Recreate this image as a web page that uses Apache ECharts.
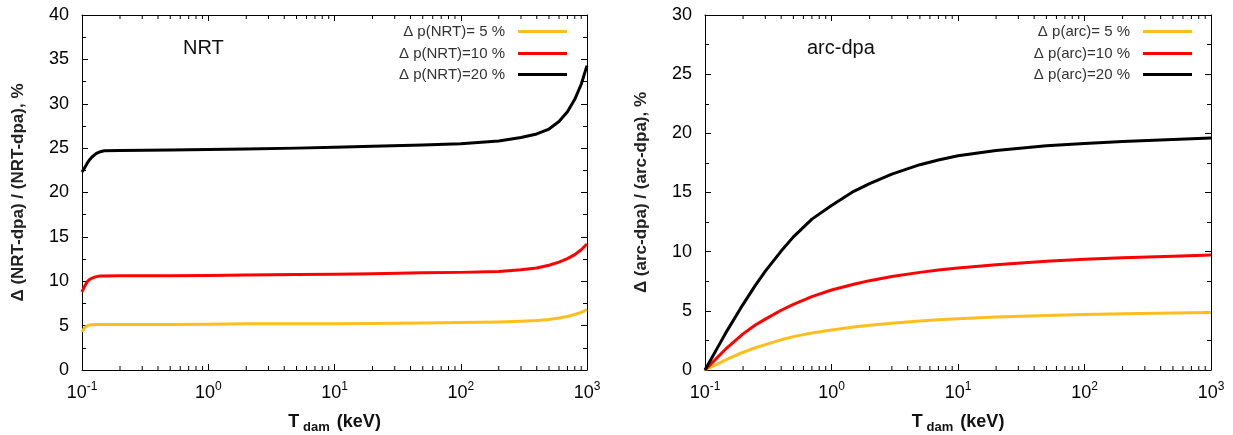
<!DOCTYPE html>
<html>
<head>
<meta charset="utf-8">
<script src="https://cdn.jsdelivr.net/npm/echarts@6/dist/echarts.min.js"></script>
<style>
html,body{margin:0;padding:0;background:#fff;}
#c{width:1233px;height:435px;}
</style>
</head>
<body>
<div id="c"></div>
<script>
// ---------- data ----------
const tNRT   = [0.1, 0.105, 0.11, 0.115, 0.12, 0.13, 0.14, 0.15, 0.2, 0.5, 1, 2, 5, 10, 20, 50, 100, 200, 300, 400, 500, 600, 700, 800, 900, 1000];
const nrt5   = [4.3, 4.75, 5.0, 5.07, 5.1, 5.12, 5.12, 5.12, 5.12, 5.13, 5.15, 5.2, 5.2, 5.22, 5.25, 5.3, 5.35, 5.4, 5.48, 5.57, 5.7, 5.86, 6.03, 6.25, 6.5, 6.8];
const nrt10  = [8.8, 9.45, 9.95, 10.2, 10.35, 10.52, 10.58, 10.6, 10.62, 10.63, 10.65, 10.7, 10.75, 10.8, 10.85, 10.95, 11.0, 11.1, 11.3, 11.5, 11.8, 12.15, 12.55, 13.0, 13.55, 14.2];
const nrt20  = [22.3, 22.8, 23.3, 23.7, 24.0, 24.4, 24.6, 24.7, 24.72, 24.78, 24.85, 24.9, 25.0, 25.1, 25.2, 25.35, 25.5, 25.8, 26.2, 26.6, 27.15, 28.0, 29.1, 30.5, 32.2, 34.3];

const tARC   = [0.1, 0.125, 0.15, 0.2, 0.25, 0.3, 0.4, 0.5, 0.7, 1, 1.5, 2, 3, 5, 7, 10, 20, 50, 100, 200, 500, 1000];
const arc5   = [0, 0.5, 0.92, 1.5, 1.88, 2.15, 2.55, 2.82, 3.12, 3.38, 3.63, 3.78, 3.96, 4.14, 4.24, 4.33, 4.47, 4.6, 4.68, 4.75, 4.81, 4.85];
const arc10  = [0, 1.05, 1.9, 3.05, 3.8, 4.3, 5.05, 5.55, 6.2, 6.76, 7.25, 7.55, 7.9, 8.25, 8.45, 8.62, 8.9, 9.18, 9.35, 9.48, 9.62, 9.72];
const arc20  = [0, 1.85, 3.35, 5.55, 7.15, 8.35, 10.05, 11.25, 12.75, 13.9, 15.1, 15.75, 16.55, 17.35, 17.75, 18.1, 18.55, 18.95, 19.15, 19.3, 19.48, 19.6];

const namesNRT = ['\u0394 p(NRT)= 5 %', '\u0394 p(NRT)=10 %', '\u0394 p(NRT)=20 %'];
const namesARC = ['\u0394 p(arc)= 5 %', '\u0394 p(arc)=10 %', '\u0394 p(arc)=20 %'];
const panelLabels = ['NRT', 'arc-dpa'];
const yNames = ['\u0394 (NRT-dpa) / (NRT-dpa), %', '\u0394 (arc-dpa) / (arc-dpa), %'];
const xTickExponents = {'0.1': '-1', '1': '0', '10': '1', '100': '2', '1000': '3'};
const minorMultipliers = [2, 3, 4, 5, 6, 7, 8, 9];
const decades = [0.1, 1, 10, 100];

// ---------- styles ----------
const FONT = 'Liberation Sans, Arial, sans-serif';
const colors = ['#FFBE1E', '#FF0000', '#000000'];
const grids = [
  {left: 82, top: 15, width: 505, height: 355, outerBoundsMode: 'none', containLabel: false},
  {left: 705, top: 15, width: 506, height: 355, outerBoundsMode: 'none', containLabel: false}
];
const yMax = [40, 30];

const minorTicks = [];
decades.forEach(d => minorMultipliers.forEach(m => minorTicks.push(+(d * m).toPrecision(3))));

function pairs(xs, ys) { return xs.map((x, i) => [x, ys[i]]); }

const xAxes = [], yAxes = [];
[0, 1].forEach(g => {
  xAxes.push({
    type: 'log', logBase: 10, gridIndex: g, min: 0.1, max: 1000, splitNumber: 4, position: 'bottom',
    axisLine: {onZero: false, lineStyle: {color: '#000', width: 1}},
    axisTick: {inside: true, length: 6, lineStyle: {color: '#000'}},
    splitLine: {show: false},
    axisLabel: {
      margin: 11, color: '#000', fontFamily: FONT, fontSize: 18,
      formatter: v => '10{sup|' + xTickExponents[String(+v.toPrecision(3))] + '}',
      rich: {sup: {fontSize: 12, fontFamily: FONT, color: '#000', padding: [0, 0, 12, 0]}}
    },
    name: 'T{sub|dam} {b|(keV)}', nameLocation: 'middle', nameGap: 41,
    nameTextStyle: {
      fontFamily: FONT, fontSize: 18, fontWeight: 'bold', color: '#111',
      rich: {
        sub: {fontFamily: FONT, fontSize: 13, fontWeight: 'bold', color: '#111', padding: [10, 2, 0, 4]},
        b: {fontFamily: FONT, fontSize: 18, fontWeight: 'bold', color: '#111'}
      }
    }
  });
  xAxes.push({
    type: 'log', logBase: 10, gridIndex: g, min: 0.1, max: 1000, splitNumber: 4, position: 'top',
    axisLine: {onZero: false, lineStyle: {color: '#000', width: 1}},
    axisTick: {inside: true, length: 6, lineStyle: {color: '#000'}},
    axisLabel: {show: false}, splitLine: {show: false}
  });
  yAxes.push({
    type: 'value', gridIndex: g, min: 0, max: yMax[g], interval: 5, position: 'left',
    axisLine: {show: true, onZero: false, lineStyle: {color: '#000', width: 1}},
    axisTick: {show: true, inside: true, length: 6, lineStyle: {color: '#000'}},
    minorTick: {show: true, splitNumber: 2, length: 4, lineStyle: {color: '#000'}},
    splitLine: {show: false},
    axisLabel: {margin: 13, color: '#000', fontFamily: FONT, fontSize: 18},
    name: yNames[g], nameLocation: 'middle', nameRotate: 90, nameGap: 55,
    nameTextStyle: {fontFamily: FONT, fontSize: 17, fontWeight: 'bold', color: '#222'}
  });
  yAxes.push({
    type: 'value', gridIndex: g, min: 0, max: yMax[g], interval: 5, position: 'right',
    axisLine: {show: true, onZero: false, lineStyle: {color: '#000', width: 1}},
    axisTick: {show: true, inside: true, length: 6, lineStyle: {color: '#000'}},
    minorTick: {show: true, splitNumber: 2, length: 4, lineStyle: {color: '#000'}},
    splitLine: {show: false},
    axisLabel: {show: false}
  });
});

function lineSeries(name, g, xs, ys, color, z) {
  return {
    type: 'line', name: name, xAxisIndex: g * 2, yAxisIndex: g * 2,
    data: pairs(xs, ys), showSymbol: false, symbol: 'none',
    smooth: false, z: z,
    lineStyle: {color: color, width: 3, join: 'round'}, itemStyle: {color: color}
  };
}

function minorTickSeries(g) {
  return {
    type: 'custom', xAxisIndex: g * 2, yAxisIndex: g * 2, silent: true, z: 1,
    data: minorTicks.map(v => [v, 0]), encode: {x: 0, y: 1},
    renderItem: (params, api) => {
      const v = api.value(0);
      const b = api.coord([v, 0]);
      const t = api.coord([v, yMax[g]]);
      return {
        type: 'group', children: [
          {type: 'line', shape: {x1: b[0], y1: b[1], x2: b[0], y2: b[1] - 4}, style: {stroke: '#000', lineWidth: 1}},
          {type: 'line', shape: {x1: t[0], y1: t[1], x2: t[0], y2: t[1] + 4}, style: {stroke: '#000', lineWidth: 1}}
        ]
      };
    }
  };
}

const series = [
  minorTickSeries(0), minorTickSeries(1),
  lineSeries(namesNRT[0], 0, tNRT, nrt5, colors[0], 3),
  lineSeries(namesNRT[1], 0, tNRT, nrt10, colors[1], 4),
  lineSeries(namesNRT[2], 0, tNRT, nrt20, colors[2], 5),
  lineSeries(namesARC[0], 1, tARC, arc5, colors[0], 3),
  lineSeries(namesARC[1], 1, tARC, arc10, colors[1], 4),
  lineSeries(namesARC[2], 1, tARC, arc20, colors[2], 5)
];

const rowTops = [19, 41, 62];
const legends = [];
[[namesNRT, 661], [namesARC, 36]].forEach(([names, right]) => {
  names.forEach((n, i) => {
    legends.push({
      data: [n], right: right, top: rowTops[i], orient: 'horizontal', align: 'right',
      icon: 'rect', itemWidth: 49, itemHeight: 3, selectedMode: false,
      textStyle: {fontFamily: FONT, fontSize: 15, color: '#333', padding: [0, 8, 0, 0]}
    });
  });
});

const option = {
  animation: false,
  backgroundColor: '#fff',
  grid: grids,
  xAxis: xAxes,
  yAxis: yAxes,
  legend: legends,
  title: [
    {text: panelLabels[0], left: 183, top: 38, padding: 0, textStyle: {fontFamily: FONT, fontSize: 20, fontWeight: 'normal', color: '#111'}},
    {text: panelLabels[1], left: 807, top: 38, padding: 0, textStyle: {fontFamily: FONT, fontSize: 20, fontWeight: 'normal', color: '#111'}}
  ],
  series: series
};

const chart = echarts.init(document.getElementById('c'), null, {renderer: 'canvas'});
chart.setOption(option);
</script>
</body>
</html>
